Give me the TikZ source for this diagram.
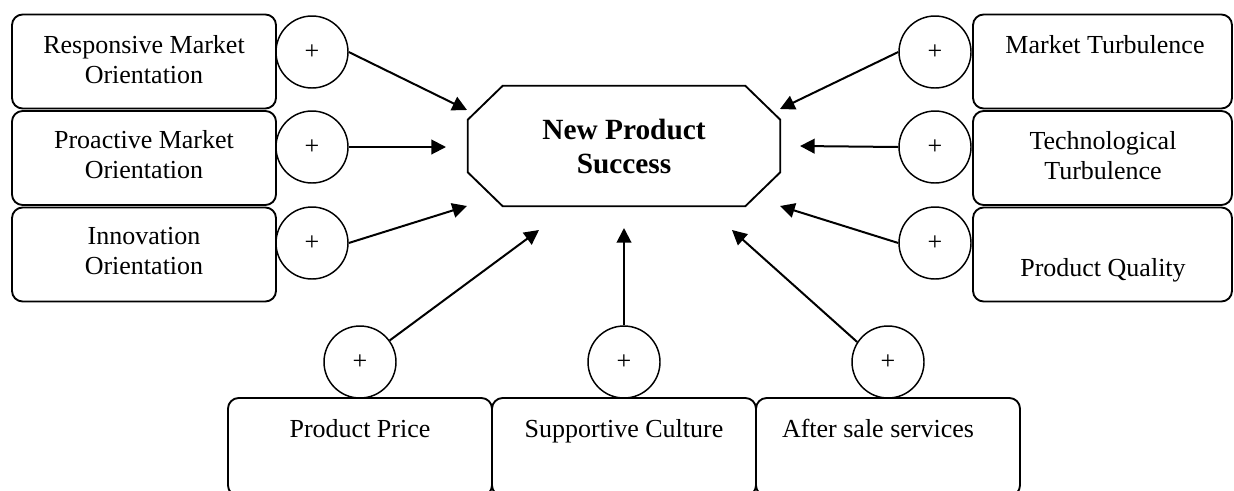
\documentclass[tikz,border=0pt]{standalone}
\usepackage{fontspec}
\setmainfont{Liberation Serif}
\usetikzlibrary{arrows.meta,calc}
\begin{document}
\begin{tikzpicture}[x=0.75pt,y=-0.75pt,
  box/.style={draw, line width=1.4pt, rounded corners=8pt, inner sep=0pt},
  sidebox/.style={box, minimum width=198pt, minimum height=70.5pt},
  rbox/.style={box, minimum width=194.25pt, minimum height=70.5pt},
  botbox/.style={box, minimum width=198pt, minimum height=73.5pt},
  lbl/.style={font=\fontsize{19.5}{22.5}\selectfont, align=center, inner sep=0pt},
  plus/.style={draw, circle, line width=1.1pt, minimum size=54pt, inner sep=0pt, font=\fontsize{19.5}{22.5}\selectfont},
  arr/.style={line width=1.5pt, -{Triangle[length=11pt,width=11pt]}}
]
\useasboundingbox (0,0) rectangle (1234,490);
\fill[white] (0,0) rectangle (1234,490);

% left boxes
\node[sidebox] (b1) at (144,61.5) {};
\node[sidebox] (b2) at (144,158) {};
\node[sidebox] (b3) at (144,254.5) {};
\node[lbl] (t1) at (144,60) {Responsive Market\\Orientation};
\node[lbl] (t2) at (144,155) {Proactive Market\\Orientation};
\node[lbl] (t3) at (144,251) {Innovation\\Orientation};

% right boxes
\node[rbox] (r1) at (1102.5,61.5) {};
\node[rbox] (r2) at (1102.5,158) {};
\node[rbox] (r3) at (1102.5,254.5) {};
\node[lbl] (rt1) at (1105,45) {Market Turbulence};
\node[lbl] (rt2) at (1103,156) {Technological\\Turbulence};
\node[lbl] (rt3) at (1103,270) {Product Quality};

% bottom boxes
\begin{scope}
\clip (0,0) rectangle (1234,490);
\node[botbox] (d1) at (360,447) {};
\node[botbox] (d2) at (624,447) {};
\node[botbox] (d3) at (888,447) {};
\end{scope}
\node[lbl, anchor=base] (dt1) at (360,437) {Product Price};
\node[lbl, anchor=base] (dt2) at (624,437) {Supportive Culture};
\node[lbl, anchor=base] (dt3) at (878,437) {After sale services};

% centre octagon
\node[minimum width=234pt, minimum height=90pt, inner sep=0pt] (nps) at (624,146) {};
\draw[line width=1.4pt]
  ($(nps.north west)+(35,0)$) -- ($(nps.north east)+(-35,0)$) --
  ($(nps.north east)+(0,34)$) -- ($(nps.south east)+(0,-34)$) --
  ($(nps.south east)+(-35,0)$) -- ($(nps.south west)+(35,0)$) --
  ($(nps.south west)+(0,-34)$) -- ($(nps.north west)+(0,34)$) -- cycle;
\node[font=\fontsize{22}{25.5}\selectfont\bfseries, align=center, inner sep=0pt] (npt) at (624,146) {New Product\\Success};

% circles
\node[plus] (c1) at (312,52) {+};
\node[plus] (c2) at (312,147) {+};
\node[plus] (c3) at (312,243) {+};
\node[plus] (e1) at (935,52) {+};
\node[plus] (e2) at (935,147) {+};
\node[plus] (e3) at (935,243) {+};
\node[plus] (f1) at (360,362) {+};
\node[plus] (f2) at (624,362) {+};
\node[plus] (f3) at (888,362) {+};

% arrow tips
\coordinate (a1) at (467,110);
\coordinate (a2) at (446,147);
\coordinate (a3) at (467,206);
\coordinate (g1) at (780,109);
\coordinate (g2) at (800,146);
\coordinate (g3) at (780,206);
\coordinate (h1) at (539,230);
\coordinate (h2) at (624,228);
\coordinate (h3) at (732,230);

\draw[arr] (c1.east) -- (a1);
\draw[arr] (c2.east) -- (a2);
\draw[arr] (c3.east) -- (a3);
\draw[arr] (e1.west) -- (g1);
\draw[arr] (e2.west) -- (g2);
\draw[arr] (e3.west) -- (g3);
\draw[arr] (f1.36) -- (h1);
\draw[arr] (f2.north) -- (h2);
\draw[arr] (f3.147) -- (h3);
\end{tikzpicture}
\end{document}
